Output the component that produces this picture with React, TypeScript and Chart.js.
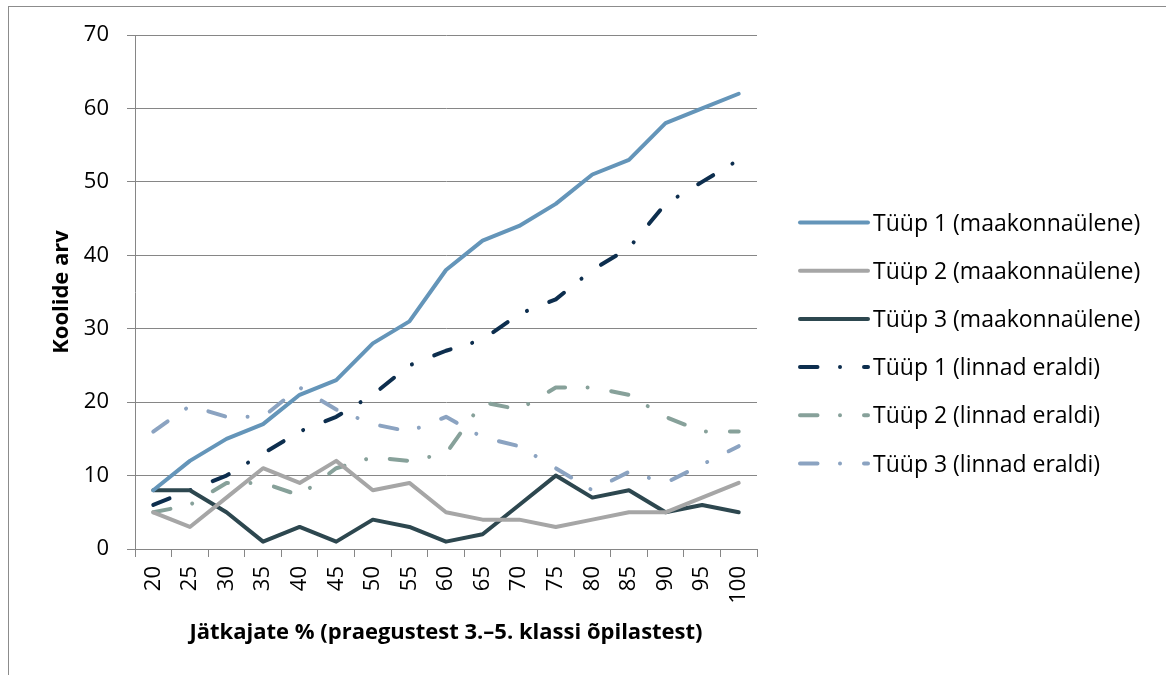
import React, { useEffect, useRef } from 'react';
import { Chart, registerables } from 'chart.js';

Chart.register(...registerables);

const categories = ['20', '25', '30', '35', '40', '45', '50', '55', '60', '65', '70', '75', '80', '85', '90', '95', '100'];

const tyyp1Maakonna = [8, 12, 15, 17, 21, 23, 28, 31, 38, 42, 44, 47, 51, 53, 58, 60, 62];
const tyyp2Maakonna = [5, 3, 7, 11, 9, 12, 8, 9, 5, 4, 4, 3, 4, 5, 5, 7, 9];
const tyyp3Maakonna = [8, 8, 5, 1, 3, 1, 4, 3, 1, 2, 6, 10, 7, 8, 5, 6, 5];
const tyyp1Linnad = [6, 8, 10, 13, 16, 18, 21, 25, 27, 28.5, 32, 34, 38, 41, 47, 50, 53];
const tyyp2Linnad = [5, 6, 9, 9, 7.3, 11, 12.5, 12, 13, 20, 19, 22, 22, 21, 18, 16, 16];
const tyyp3Linnad = [16, 19.5, 18, 18, 22, 19, 17, 16, 18, 15.2, 14, 11, 8, 10.5, 9, 11.5, 14];

const seriesLabels = [
  'Tüüp 1 (maakonnaülene)',
  'Tüüp 2 (maakonnaülene)',
  'Tüüp 3 (maakonnaülene)',
  'Tüüp 1 (linnad eraldi)',
  'Tüüp 2 (linnad eraldi)',
  'Tüüp 3 (linnad eraldi)',
];
const seriesColors = ['#6495b9', '#a6a6a6', '#2d474f', '#0d2e4e', '#87a19a', '#8ba3c1'];

const yMin = 0;
const yMax = 70;
const yStep = 10;

const xTitle = 'Jätkajate % (praegustest 3.–5. klassi õpilastest)';
const yTitle = 'Koolide arv';

const FONT = '"Open Sans", sans-serif';
const DASH = [17.5, 22.5, 0.01, 24];
const GRID = '#868686';

const decorPlugin = {
  id: 'decor',
  beforeDraw(chart: any) {
    const ctx = chart.ctx;
    ctx.save();
    ctx.strokeStyle = '#8c8c8c';
    ctx.lineWidth = 1;
    ctx.strokeRect(8.5, 6.5, 1400, 900);
    ctx.restore();
  },
  afterDraw(chart: any) {
    const ctx = chart.ctx;
    const area = chart.chartArea;
    ctx.save();
    ctx.fillStyle = '#000';
    ctx.font = `bold 22px ${FONT}`;
    ctx.textAlign = 'center';
    ctx.textBaseline = 'alphabetic';
    ctx.fillText(xTitle, (area.left + area.right) / 2, 639);
    ctx.save();
    ctx.translate(68, (area.top + area.bottom) / 2);
    ctx.rotate(-Math.PI / 2);
    ctx.fillText(yTitle, 0, 0);
    ctx.restore();

    const x0 = 800;
    const x1 = 868;
    const rowTop = 222.5;
    const rowStep = 48.2;
    chart.data.datasets.forEach((ds: any, i: number) => {
      const y = rowTop + i * rowStep;
      ctx.save();
      ctx.strokeStyle = ds.borderColor;
      ctx.lineWidth = ds.borderWidth;
      ctx.lineCap = 'round';
      ctx.setLineDash(ds.borderDash || []);
      ctx.beginPath();
      ctx.moveTo(x0, y);
      ctx.lineTo(x1, y);
      ctx.stroke();
      ctx.restore();
      ctx.fillStyle = '#000';
      ctx.font = `23px ${FONT}`;
      ctx.textAlign = 'left';
      ctx.textBaseline = 'alphabetic';
      ctx.fillText(ds.label, 873, y + 8);
    });
    ctx.restore();
  },
};

export default function App() {
  const canvasRef = useRef<HTMLCanvasElement | null>(null);

  useEffect(() => {
    if (!canvasRef.current) return;
    const series = [tyyp1Maakonna, tyyp2Maakonna, tyyp3Maakonna, tyyp1Linnad, tyyp2Linnad, tyyp3Linnad];
    const datasets = series.map((data, i) => ({
      label: seriesLabels[i],
      data,
      borderColor: seriesColors[i],
      backgroundColor: seriesColors[i],
      borderWidth: 4,
      borderDash: i >= 3 ? DASH : [],
      borderCapStyle: 'round' as const,
      borderJoinStyle: 'round' as const,
      pointRadius: 0,
      tension: 0,
      fill: false,
    }));
    const chart = new Chart(canvasRef.current, {
      type: 'line',
      data: { labels: categories, datasets },
      options: {
        responsive: false,
        animation: false,
        layout: { padding: { left: 0, top: 35, right: 409, bottom: 0 } },
        plugins: {
          legend: { display: false },
          tooltip: { enabled: false },
        },
        scales: {
          x: {
            type: 'category',
            offset: true,
            grid: {
              offset: true,
              drawOnChartArea: false,
              drawTicks: true,
              tickLength: 8,
              color: GRID,
              lineWidth: 1,
            },
            border: { color: GRID, width: 1 },
            ticks: {
              autoSkip: false,
              maxRotation: 90,
              minRotation: 90,
              padding: 9,
              color: '#000',
              font: { family: FONT, size: 22 },
            },
            afterFit: (s: any) => {
              s.height = 126;
            },
          },
          y: {
            min: yMin,
            max: yMax,
            ticks: {
              stepSize: yStep,
              padding: 18,
              color: '#000',
              font: { family: FONT, size: 22 },
            },
            grid: { color: GRID, lineWidth: 1, tickLength: 8, drawTicks: true },
            border: { color: GRID, width: 1 },
            afterFit: (s: any) => {
              s.width = 135;
            },
          },
        },
      },
      plugins: [decorPlugin],
    });
    return () => chart.destroy();
  }, []);

  return (
    <div style={{ position: 'absolute', left: 0, top: 0, width: 1166, height: 675, background: '#fff' }}>
      <canvas ref={canvasRef} width={1166} height={675} />
    </div>
  );
}
